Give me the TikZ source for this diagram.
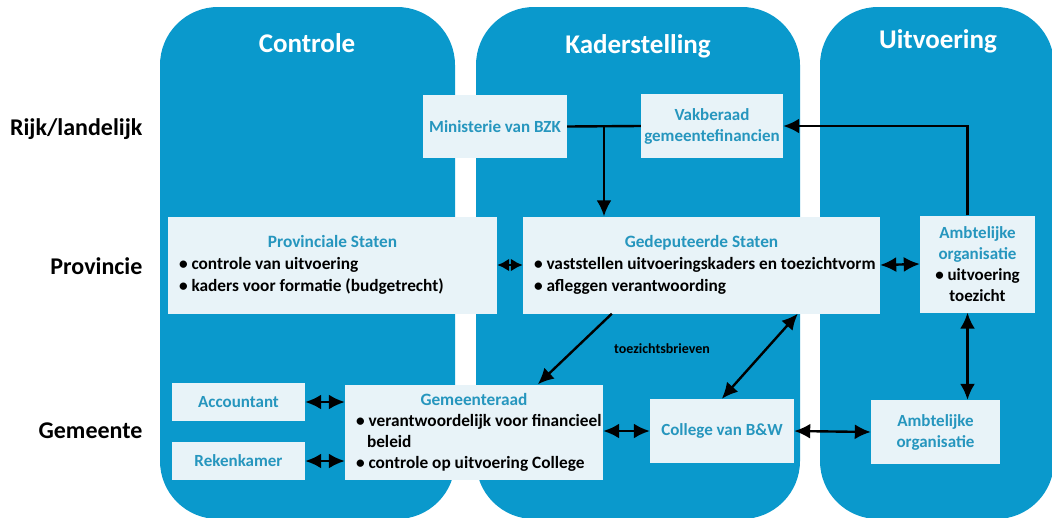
\documentclass[tikz,border=0pt]{standalone}
\usepackage{fontspec}
\setmainfont{Carlito}
\usepackage{xcolor}
\usepackage{tikz}
\usetikzlibrary{calc, positioning, arrows.meta}
\definecolor{bandblue}{RGB}{10,153,204}
\definecolor{boxfill}{RGB}{232,243,248}
\definecolor{titleblue}{RGB}{38,150,190}
\tikzset{
    band/.style={fill=bandblue, draw=none, rounded corners=58pt},
    bandtitle/.style={font=\fontsize{27}{31}\selectfont\bfseries, text=white, anchor=base},
    level/.style={font=\fontsize{24}{28}\selectfont\bfseries, anchor=base east},
    orgbox/.style={rectangle, fill=boxfill, draw=none, align=center, inner sep=0pt, font=\fontsize{17}{21}\selectfont\bfseries, text=titleblue},
    listbox/.style={rectangle, fill=boxfill, draw=none, align=left, inner xsep=11pt, inner ysep=0pt, font=\fontsize{17.3}{22}\selectfont\bfseries,
        execute at begin node={\spaceskip=0pt\xspaceskip=0pt\hyphenpenalty=10000}},
    note/.style={font=\fontsize{14}{17}\selectfont\bfseries},
    wire/.style={line width=2.4pt},
    arrow/.style={-{Latex[length=16pt,width=15pt]}, line width=2.4pt},
    link/.style={{Latex[length=16pt,width=15pt]}-{Latex[length=16pt,width=15pt]}, line width=2.4pt},
    shortlink/.style={{Latex[length=12pt,width=13pt]}-{Latex[length=12pt,width=13pt]}, line width=2.4pt}
}
\newcommand{\boxtitle}[1]{\makebox[\linewidth]{\textcolor{titleblue}{#1}}}

\begin{document}
\begin{tikzpicture}[x=1pt, y=-1pt]
    \useasboundingbox (0,0) rectangle (1052,517);
    \clip (0,0) rectangle (1052,517);

    % Columns
    \fill[band] (160,7) rectangle (455,519);
    \fill[band] (476,7) rectangle (800,519);
    \fill[band] (820,7) rectangle (1054,519);
    \node[bandtitle] (ctrl) at (307,52) {Controle};
    \node[bandtitle] (kader) at (638,53) {Kaderstelling};
    \node[bandtitle] (uitv) at (938,48) {Uitvoering};

    % Levels
    \node[level] (rijk) at (146,135) {Rijk/landelijk};
    \node[level] (prov) at (146,274) {Provincie};
    \node[level] (gem) at (146,438) {Gemeente};

    % Rijk
    \node[orgbox, minimum width=144pt, minimum height=63pt] (bzk) at (495,126.5) {Ministerie van BZK};
    \node[orgbox, minimum width=142pt, minimum height=64pt] (vak) at (712,126) {Vakberaad\\gemeentefinancien};

    % Provincie
    \node[listbox, text width=307pt, minimum height=97pt] (ps) at (332.5,265) {%
        \boxtitle{Provinciale Staten}\\
        \mbox{\textbullet~controle van uitvoering}\\
        \mbox{\textbullet~kaders voor formatie (budgetrecht)}};
    \node[listbox, text width=335pt, minimum height=97pt] (gs) at (701.5,265) {%
        \boxtitle{Gedeputeerde Staten}\\
        \mbox{\textbullet~vaststellen uitvoeringskaders en toezichtvorm}\\
        \mbox{\textbullet~afleggen verantwoording}};
    \node[orgbox, minimum width=115pt, minimum height=97pt] (aop) at (977.5,264) {%
        Ambtelijke\\organisatie\\
        \textcolor{black}{\textbullet~uitvoering}\\
        \textcolor{black}{toezicht}};

    % Gemeente
    \node[orgbox, minimum width=133pt, minimum height=38pt] (acc) at (238.5,402) {Accountant};
    \node[orgbox, minimum width=133pt, minimum height=38pt] (rek) at (238.5,461) {Rekenkamer};
    \node[listbox, inner xsep=11pt, text width=236pt, minimum height=95pt, font=\fontsize{17.3}{21}\selectfont\bfseries] (gr) at (474,432) {%
        \boxtitle{Gemeenteraad}\\
        \mbox{\textbullet~verantwoordelijk voor financieel}\\
        \mbox{\rule{11pt}{0pt}beleid}\\
        \mbox{\textbullet~controle op uitvoering College}};
    \node[orgbox, minimum width=144pt, minimum height=64pt] (bw) at (722,431) {College van B\&W};
    \node[orgbox, minimum width=129pt, minimum height=64pt] (aog) at (935.5,432) {Ambtelijke\\organisatie};

    % Connectors
    \draw[wire] (bzk.east) -- (vak.west);
    \coordinate (split) at ($(bzk.east)!0.5!(vak.west)$);
    \draw[arrow] (split) -- (split |- gs.north);
    \coordinate (up) at ($(aop.north)+(-10,0)$);
    \draw[arrow] (up) |- (vak.east);
    \draw[shortlink] (ps.east) -- (gs.west);
    \draw[link] (gs.east) -- (aop.west);
    \draw[arrow] ($(gs.south west)+(89,0)$) -- ($(gr.north west)+(193,0)$);
    \node[note] (brief) at (662,349) {toezichtsbrieven};
    \draw[link] ($(bw.north west)+(72,0)$) -- ($(gs.south west)+(275,0)$);
    \draw[link] (acc.east) -- (acc.east -| gr.west);
    \draw[link] (rek.east) -- (rek.east -| gr.west);
    \draw[link] (gr.east |- bw.west) -- (bw.west);
    \draw[link] (bw.east) -- (aog.west);
    \coordinate (down) at ($(aog.north)+(32,0)$);
    \draw[link] (down) -- (down |- aop.south);
\end{tikzpicture}
\end{document}
